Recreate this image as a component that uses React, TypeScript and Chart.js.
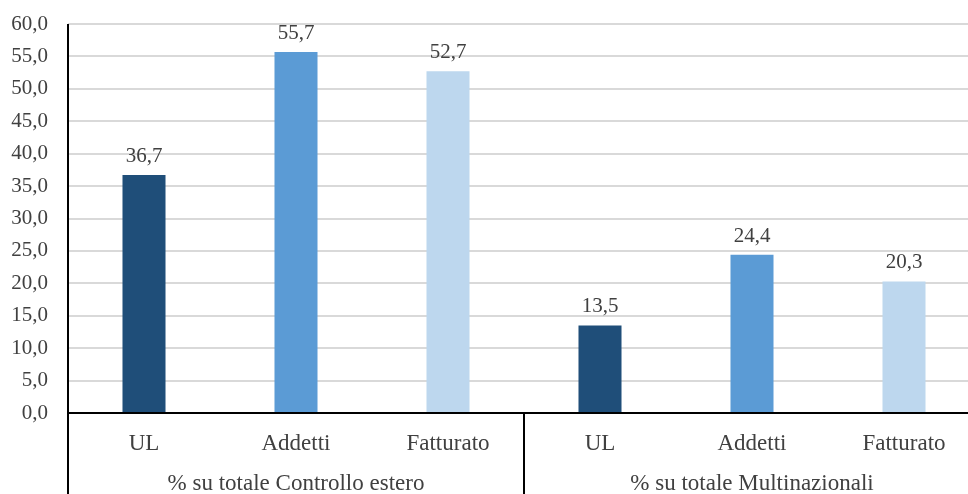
import React, { useEffect, useRef } from "react";
import { Chart, registerables } from "chart.js";

Chart.register(...registerables);

// Categories, grouping and values
const categories = ["UL", "Addetti", "Fatturato", "UL", "Addetti", "Fatturato"];
const groups = ["% su totale Controllo estero", "% su totale Multinazionali"];
const groupSize = 3;
const values = [36.7, 55.7, 52.7, 13.5, 24.4, 20.3];
const barColors = ["#1f4e79", "#5b9bd5", "#bdd7ee", "#1f4e79", "#5b9bd5", "#bdd7ee"];

const FONT = "'Liberation Serif', 'Times New Roman', serif";
const TEXT = "#404040";
const fmt = (v: number) => v.toFixed(1).replace(".", ",");

// Value labels above the bars, two-level category axis underneath
const annotate = {
  id: "annotate",
  afterDatasetsDraw(chart: any) {
    const { ctx, chartArea, scales } = chart;
    const x = scales.x;
    const meta = chart.getDatasetMeta(0);
    ctx.save();
    ctx.font = `21px ${FONT}`;
    ctx.fillStyle = TEXT;
    ctx.textAlign = "center";
    ctx.textBaseline = "alphabetic";
    meta.data.forEach((bar: any, i: number) => {
      ctx.fillText(fmt(values[i]), bar.x, bar.y - 13);
    });

    const bottom = chartArea.bottom;
    const H = chart.height;
    ctx.strokeStyle = "#000";
    ctx.lineWidth = 2;
    ctx.beginPath();
    ctx.moveTo(chartArea.left, bottom);
    ctx.lineTo(chart.width, bottom);
    ctx.moveTo(chartArea.left, chartArea.top);
    ctx.lineTo(chartArea.left, H);
    const slot = (chartArea.right - chartArea.left) / categories.length;
    for (let g = 1; g < groups.length; g++) {
      const sx = Math.round(chartArea.left + slot * groupSize * g);
      ctx.moveTo(sx, bottom);
      ctx.lineTo(sx, H);
    }
    ctx.stroke();

    ctx.font = `23px ${FONT}`;
    ctx.textBaseline = "middle";
    categories.forEach((c, i) => {
      ctx.fillText(c, x.getPixelForValue(i), bottom + 31);
    });
    groups.forEach((g, gi) => {
      const l = chartArea.left + slot * groupSize * gi;
      const r = l + slot * groupSize;
      ctx.fillText(g, (l + r) / 2, bottom + 71);
    });
    ctx.restore();
  },
};

export default function App() {
  const ref = useRef<HTMLCanvasElement>(null);

  useEffect(() => {
    if (!ref.current) return;
    const chart = new Chart(ref.current, {
      type: "bar",
      data: {
        labels: categories,
        datasets: [
          {
            data: values,
            backgroundColor: barColors,
            categoryPercentage: 1,
            barPercentage: 0.283,
          },
        ],
      },
      options: {
        responsive: false,
        animation: false,
        layout: { padding: { left: 0, right: 20, top: 24, bottom: 81 } },
        plugins: { legend: { display: false }, tooltip: { enabled: false } },
        scales: {
          x: { display: false },
          y: {
            min: 0,
            max: 60,
            afterFit: (s: any) => {
              s.width = 68;
              s.paddingTop = 0;
              s.paddingBottom = 0;
            },
            ticks: {
              stepSize: 5,
              padding: 20,
              color: TEXT,
              font: { family: FONT, size: 21 },
              callback: (v: any) => fmt(Number(v)),
            },
            grid: { color: "#d9d9d9", lineWidth: 2, drawTicks: false },
            border: { display: false },
          },
        },
      },
      plugins: [annotate],
    });
    return () => chart.destroy();
  }, []);

  return (
    <div
      style={{
        position: "fixed",
        left: 0,
        top: 0,
        width: 968,
        height: 494,
        overflow: "hidden",
        background: "#fff",
      }}
    >
      <canvas ref={ref} width={1000} height={494} style={{ display: "block" }} />
    </div>
  );
}
